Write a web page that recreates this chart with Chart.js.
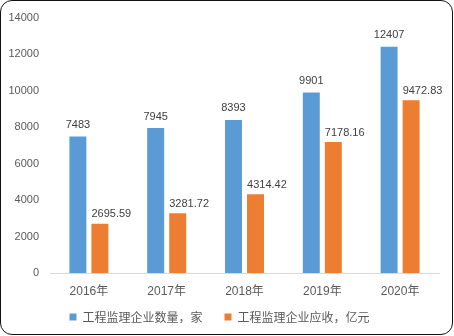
<!DOCTYPE html>
<html>
<head>
<meta charset="utf-8">
<script src="https://cdn.jsdelivr.net/npm/chart.js@4"></script>
<style>
  body { margin: 0; background: #fff; }
  #wrap { position: relative; width: 454px; height: 336px; }
  #frame { position: absolute; left: 0; top: 0; width: 453px; height: 335px; box-sizing: border-box;
           border: 1.3px solid #111; border-radius: 12px; pointer-events: none; }
</style>
</head>
<body>
<div id="wrap">
  <canvas id="chart" width="454" height="336"></canvas>
  <div id="frame"></div>
</div>
<script>
// years on the x axis
const years = ['2016年', '2017年', '2018年', '2019年', '2020年'];
// number of supervision companies
const companyCount = [7483, 7945, 8393, 9901, 12407];
// revenue, 100 million yuan
const revenue = [2695.59, 3281.72, 4314.42, 7178.16, 9472.83];
const seriesNames = ['工程监理企业数量，家', '工程监理企业应收，亿元'];

// write value above each bar (second series starts at the bar's left edge)
const valueLabels = {
  id: 'valueLabels',
  afterDatasetsDraw(chart) {
    const ctx = chart.ctx;
    ctx.save();
    ctx.font = '11px "Liberation Sans", Arial, sans-serif';
    ctx.fillStyle = '#404040';
    ctx.textBaseline = 'bottom';
    chart.data.datasets.forEach((ds, i) => {
      chart.getDatasetMeta(i).data.forEach((bar, j) => {
        if (i === 0) {
          ctx.textAlign = 'center';
          ctx.fillText(String(ds.data[j]), bar.x, bar.y - 6);
        } else {
          ctx.textAlign = 'left';
          ctx.fillText(String(ds.data[j]), bar.x - bar.width / 2, bar.y - 4);
        }
      });
    });
    ctx.restore();
  }
};

new Chart(document.getElementById('chart'), {
  type: 'bar',
  data: {
    labels: years,
    datasets: [
      { label: seriesNames[0], data: companyCount, backgroundColor: '#5b9bd5' },
      { label: seriesNames[1], data: revenue, backgroundColor: '#ed7d31' }
    ]
  },
  options: {
    responsive: false,
    animation: false,
    categoryPercentage: 0.566,
    barPercentage: 0.77,
    layout: { padding: { top: -3, right: 15, left: 0, bottom: 3 } },
    plugins: {
      tooltip: { enabled: false },
      legend: {
        position: 'bottom',
        labels: {
          boxWidth: 7, boxHeight: 7, padding: 10, color: '#595959',
          font: { size: 12, family: '"Noto Sans CJK SC", sans-serif' },
          // a wide space after the first item so the two entries sit apart
          generateLabels: chart => {
            const items = Chart.defaults.plugins.legend.labels.generateLabels(chart);
            items[0].text += '\u3000';
            return items;
          }
        }
      }
    },
    scales: {
      x: {
        afterFit: s => { s.height = 28; },
        grid: { display: false, drawTicks: false },
        border: { color: '#d9d9d9' },
        ticks: { color: '#595959', padding: 11, font: { size: 12, family: '"Liberation Sans", "Noto Sans CJK SC", sans-serif' } }
      },
      y: {
        min: 0, max: 14000,
        afterFit: s => { s.width = 50; },
        grid: { display: false, drawTicks: false },
        border: { display: false },
        ticks: {
          stepSize: 2000, color: '#595959', padding: 11,
          font: { size: 11, family: '"Liberation Sans", sans-serif' },
          callback: v => String(v)
        }
      }
    }
  },
  plugins: [valueLabels]
});
</script>
</body>
</html>
